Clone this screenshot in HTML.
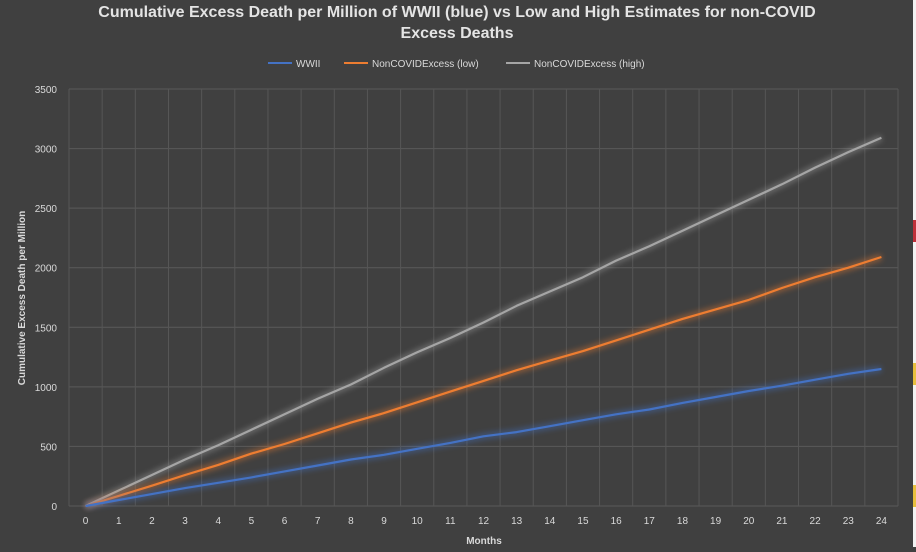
<!DOCTYPE html>
<html><head><meta charset="utf-8"><style>
html,body{margin:0;padding:0;background:#404040;}
body{width:916px;height:547px;overflow:hidden;font-family:"Liberation Sans",sans-serif;}
</style></head><body>
<svg id="chart" width="916" height="547" xmlns="http://www.w3.org/2000/svg">
<defs>
<filter id="glow" x="-10%" y="-10%" width="120%" height="120%"><feGaussianBlur stdDeviation="3"/></filter>
</defs>
<rect width="916" height="547" fill="#404040"/>
<rect x="913" y="0" width="3" height="547" fill="#f2f2f2"/>
<rect x="913" y="220" width="3" height="22" fill="#c0303a"/>
<rect x="913" y="363" width="3" height="22" fill="#e8c040"/>
<rect x="913" y="485" width="3" height="22" fill="#e8c040"/>
<text x="457" y="17" text-anchor="middle" font-size="16" font-weight="bold" fill="#e4e4e4">Cumulative Excess Death per Million of WWII (blue) vs Low and High Estimates for non-COVID</text>
<text x="457" y="38" text-anchor="middle" font-size="16" font-weight="bold" fill="#e4e4e4">Excess Deaths</text>
<g id="legend" font-size="10" fill="#d9d9d9">
<g><line x1="268" y1="63" x2="292" y2="63" stroke="#4472c4" stroke-width="2"/><text x="296" y="67">WWII</text></g>
<g><line x1="344" y1="63" x2="368" y2="63" stroke="#ed7d31" stroke-width="2"/><text x="372" y="67">NonCOVIDExcess (low)</text></g>
<g><line x1="506" y1="63" x2="530" y2="63" stroke="#a5a5a5" stroke-width="2"/><text x="534" y="67">NonCOVIDExcess (high)</text></g>
</g>
<g id="grid"></g>
<g id="axes"></g>
<g id="seriesGroup"></g>
<text x="484" y="544" text-anchor="middle" font-size="10" font-weight="bold" fill="#d9d9d9">Months</text>
<text transform="translate(25,298) rotate(-90)" text-anchor="middle" font-size="10" font-weight="bold" fill="#d9d9d9">Cumulative Excess Death per Million</text>
</svg>
<script>
const months = [0,1,2,3,4,5,6,7,8,9,10,11,12,13,14,15,16,17,18,19,20,21,22,23,24];
const wwii = [0,50,100,150,195,240,290,340,390,430,480,530,585,620,670,720,770,810,865,915,965,1010,1060,1110,1150];
const lowEst = [0,85,170,260,345,440,520,610,700,780,870,960,1050,1140,1220,1300,1390,1480,1570,1650,1730,1830,1920,2000,2090];
const highEst = [0,130,260,390,510,640,770,900,1020,1160,1290,1410,1540,1680,1800,1920,2060,2180,2310,2440,2570,2700,2840,2970,3090];
const yTicks = [0,500,1000,1500,2000,2500,3000,3500];

const NS = "http://www.w3.org/2000/svg";
const pLeft = 69, pRight = 898, pTop = 89, pBottom = 506, yMax = 3500;
const step = (pRight-pLeft)/months.length;
const xPos = i => pLeft + step*(i+0.5);
const yPos = v => pBottom - (v/yMax)*(pBottom-pTop);
function mk(tag, attrs, parent){const e=document.createElementNS(NS,tag);for(const k in attrs)e.setAttribute(k,attrs[k]);parent.appendChild(e);return e;}

const gridG = document.getElementById('grid');
const axesG = document.getElementById('axes');
yTicks.forEach(t=>{
  const l = mk('line',{x1:pLeft,x2:pRight,y1:yPos(t),y2:yPos(t),stroke:'#5a5a5a','stroke-width':1},gridG);
  
  
  const tx = mk('text',{x:57,y:yPos(t)+4,'text-anchor':'end','font-size':10,fill:'#d9d9d9'},axesG);
  tx.textContent = t;
  
  
});
for(let i=0;i<=months.length;i++){
  const x = pLeft + step*i;
  const l = mk('line',{x1:x,x2:x,y1:pTop,y2:pBottom,stroke:'#565656','stroke-width':1},gridG);
  
  
}
months.forEach((m,i)=>{
  const tx = mk('text',{x:xPos(i),y:524,'text-anchor':'middle','font-size':10,fill:'#d9d9d9'},axesG);
  tx.textContent = m;
  
  
});

const seriesG = document.getElementById('seriesGroup');
[[highEst,'#a5a5a5','series-high'],[lowEst,'#ed7d31','series-low'],[wwii,'#4472c4','series-wwii']].forEach(([d,c,n])=>{
  const pts = d.map((v,i)=>xPos(i).toFixed(1)+','+yPos(v).toFixed(1)).join(' ');
  const g = mk('polyline',{points:pts,fill:'none',stroke:c,'stroke-width':6,opacity:0.45,filter:'url(#glow)'},seriesG);
  
  
  const p = mk('polyline',{points:pts,fill:'none',stroke:c,'stroke-width':2.2,'stroke-linejoin':'round'},seriesG);
  
  
});
</script>
</body></html>
